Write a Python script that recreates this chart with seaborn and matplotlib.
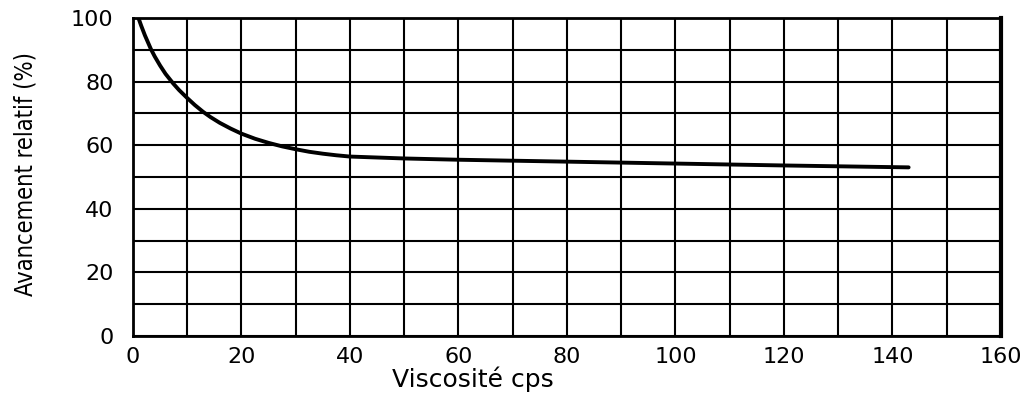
import numpy as np
import pandas as pd
import matplotlib
matplotlib.use("Agg")
import matplotlib.pyplot as plt
import seaborn as sns
from matplotlib import font_manager

# values
viscosite = [1, 1.5, 2.2, 3.3, 4, 5, 6, 7.4, 8.5, 10, 11.4, 12.9, 14.3, 16, 18, 20,
             22.5, 25, 27.5, 30, 32.5, 35, 37.5, 40, 50, 60, 80, 100, 120, 143]
avancement = [100, 97.6, 94.5, 90.2, 87.9, 85.0, 82.4, 79.4, 77.3, 74.8, 72.6, 70.5, 68.8, 67.0, 65.2, 63.6,
              62.0, 60.7, 59.6, 58.7, 57.9, 57.3, 56.8, 56.4, 55.8, 55.4, 54.8, 54.2, 53.6, 53]

x_ticks = [0, 20, 40, 60, 80, 100, 120, 140, 160]
y_ticks = [0, 20, 40, 60, 80, 100]

df = pd.DataFrame({"viscosite": viscosite, "avancement": avancement})

sns.set_style("white")
plt.rcParams["font.family"] = ["DejaVu Sans"]

# condensed face for the y label, if one is installed
names = {f.name for f in font_manager.fontManager.ttflist}
if "Liberation Sans Narrow" in names:
    label_font = dict(family="Liberation Sans Narrow")
else:
    label_font = dict(family="DejaVu Sans", stretch="condensed")

fig = plt.figure(figsize=(10.35, 3.98), dpi=100)
ax = fig.add_axes([0.1285, 0.156, 0.8385, 0.799])

sns.lineplot(data=df, x="viscosite", y="avancement", ax=ax, color="black", linewidth=2.8)

ax.set_xlim(0, 160)
ax.set_ylim(0, 100)
ax.set_xticks(np.arange(0, 161, 10), minor=True)
ax.set_yticks(np.arange(0, 101, 10), minor=True)
ax.set_xticks(x_ticks)
ax.set_yticks(y_ticks)
ax.grid(True, which="both", color="black", linewidth=1.5)
ax.tick_params(which="both", length=0, labelsize=16, colors="black")
ax.tick_params(axis="x", pad=8)
ax.tick_params(axis="y", pad=14)

for s in ax.spines.values():
    s.set_color("black")
    s.set_linewidth(2)
ax.spines["right"].set_linewidth(3)

ax.set_xlabel("Viscosité cps", fontsize=18, color="black")
ax.xaxis.set_label_coords(473 / 1035, 1 - 366 / 398, transform=fig.transFigure)
ax.set_ylabel("Avancement relatif (%)", fontsize=17, color="black", **label_font)
ax.yaxis.set_label_coords(38 / 1035, 1 - 174 / 398, transform=fig.transFigure)

fig.savefig("out.png", dpi=100)
